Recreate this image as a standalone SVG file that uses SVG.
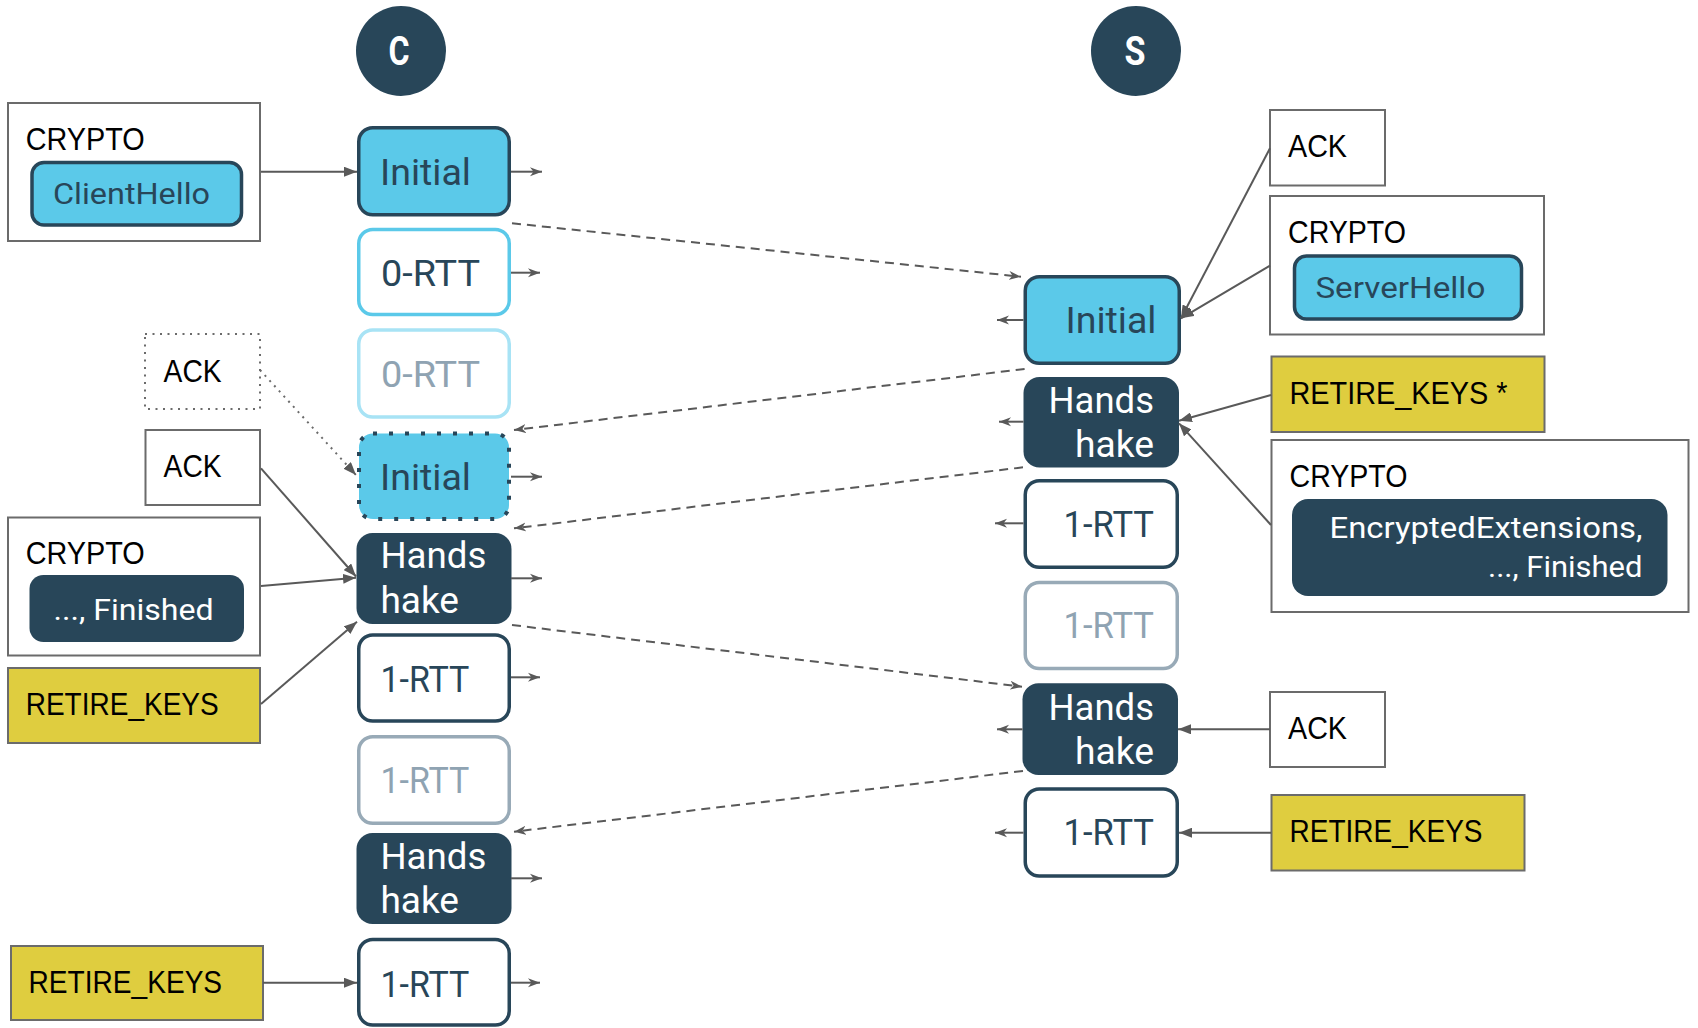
<svg xmlns="http://www.w3.org/2000/svg" width="1698" height="1028" viewBox="0 0 1698 1028">
  <defs>
    <marker id="tri" markerUnits="userSpaceOnUse" markerWidth="14" markerHeight="10" refX="13" refY="5" orient="auto">
      <path d="M0,0 L13,5 L0,10 z" fill="#595959"/>
    </marker>
    <marker id="chev" markerUnits="userSpaceOnUse" markerWidth="14" markerHeight="10" refX="12" refY="5" orient="auto">
      <path d="M0,0.5 L12,5 L0,9.5 L3.5,5 z" fill="#595959"/>
    </marker>
    <style>
      .bg { fill: #ffffff; }
      .frame { fill: #ffffff; stroke: #6b6b6b; stroke-width: 2; }
      .frame-dot { fill: #ffffff; stroke: #6b6b6b; stroke-width: 2; stroke-dasharray: 2 5.5; }
      .yellow { fill: #DFCD3F; stroke: #6b6b6b; stroke-width: 2; }
      .lbl { font-family: "Liberation Sans", Arial, sans-serif; font-size: 31px; fill: #000000; }
      .ntxt { font-family: Roboto, "Liberation Sans", sans-serif; font-size: 37px; }
      .itxt { font-family: Roboto, "Liberation Sans", sans-serif; font-size: 30px; }
      .dark { fill: #284659; }
      .n-init { fill: #5BC9E9; stroke: #284659; stroke-width: 3.5; }
      .n-init-dot { fill: #5BC9E9; stroke: #284659; stroke-width: 4; stroke-dasharray: 4 12; }
      .n-0rtt { fill: #ffffff; stroke: #5BC9E9; stroke-width: 3.5; }
      .n-0rtt-old { fill: #ffffff; stroke: #A8E3F5; stroke-width: 3.5; }
      .n-hs { fill: #284659; }
      .n-1rtt { fill: #ffffff; stroke: #284659; stroke-width: 3.5; }
      .n-1rtt-old { fill: #ffffff; stroke: #98AAB7; stroke-width: 3.5; }
      .t-dark { fill: #284659; }
      .t-white { fill: #ffffff; }
      .t-faded { fill: #8FA3B2; }
      .ep { font-family: Roboto, "Liberation Sans", sans-serif; font-size: 40px; font-weight: bold; fill: #ffffff; }
      .c-solid { fill: none; stroke: #595959; stroke-width: 2; marker-end: url(#tri); }
      .c-out { fill: none; stroke: #595959; stroke-width: 2; marker-end: url(#chev); }
      .c-dash { fill: none; stroke: #595959; stroke-width: 2; stroke-dasharray: 9 6; marker-end: url(#chev); }
      .c-dot { fill: none; stroke: #6b6b6b; stroke-width: 2; stroke-dasharray: 2 5; marker-end: url(#tri); }
    </style>
  </defs>

  <rect class="bg" x="0" y="0" width="1698" height="1028"/>

  <!-- endpoints -->
  <g id="client">
    <circle cx="401" cy="51" r="45" class="dark"/>
    <text class="ep" x="399" y="65" text-anchor="middle" textLength="21" lengthAdjust="spacingAndGlyphs">C</text>
  </g>
  <g id="server">
    <circle cx="1136" cy="51" r="45" class="dark"/>
    <text class="ep" x="1135" y="65" text-anchor="middle" textLength="21" lengthAdjust="spacingAndGlyphs">S</text>
  </g>

  <!-- client-side frames -->
  <g id="c-crypto-1">
    <rect class="frame" x="8" y="103" width="252" height="138"/>
    <text class="lbl" x="25.7" y="150" textLength="119" lengthAdjust="spacingAndGlyphs">CRYPTO</text>
    <rect class="n-init" x="32" y="162.5" width="209.5" height="62.5" rx="12"/>
    <text class="itxt t-dark" x="53" y="204" textLength="157" lengthAdjust="spacingAndGlyphs">ClientHello</text>
  </g>
  <g id="c-ack-dotted">
    <rect class="frame-dot" x="145" y="334" width="115" height="75"/>
    <text class="lbl" x="163.6" y="381.7" textLength="58" lengthAdjust="spacingAndGlyphs">ACK</text>
  </g>
  <g id="c-ack">
    <rect class="frame" x="145.5" y="430" width="114.5" height="75"/>
    <text class="lbl" x="163.6" y="476.7" textLength="58" lengthAdjust="spacingAndGlyphs">ACK</text>
  </g>
  <g id="c-crypto-2">
    <rect class="frame" x="8" y="517.5" width="252" height="138"/>
    <text class="lbl" x="25.7" y="564.3" textLength="119" lengthAdjust="spacingAndGlyphs">CRYPTO</text>
    <rect class="n-hs" x="29.5" y="575" width="214.5" height="67" rx="14"/>
    <text class="itxt t-white" x="53.6" y="620" textLength="160" lengthAdjust="spacingAndGlyphs">..., Finished</text>
  </g>
  <g id="c-retire-1">
    <rect class="yellow" x="8" y="668" width="252" height="75"/>
    <text class="lbl" x="25.7" y="715" textLength="193" lengthAdjust="spacingAndGlyphs">RETIRE_KEYS</text>
  </g>
  <g id="c-retire-2">
    <rect class="yellow" x="11" y="946" width="252" height="74"/>
    <text class="lbl" x="28.6" y="993.3" textLength="193.5" lengthAdjust="spacingAndGlyphs">RETIRE_KEYS</text>
  </g>

  <!-- client packets -->
  <g id="c-initial">
    <rect class="n-init" x="358.75" y="127.75" width="150.5" height="87" rx="14"/>
    <text class="ntxt t-dark" x="380" y="185" textLength="91" lengthAdjust="spacingAndGlyphs">Initial</text>
  </g>
  <g id="c-0rtt">
    <rect class="n-0rtt" x="358.75" y="229.5" width="150.5" height="85" rx="14"/>
    <text class="ntxt t-dark" x="381" y="286" textLength="99" lengthAdjust="spacingAndGlyphs">0-RTT</text>
  </g>
  <g id="c-0rtt-old">
    <rect class="n-0rtt-old" x="358.75" y="330" width="150.5" height="87" rx="14"/>
    <text class="ntxt t-faded" x="381" y="386.7" textLength="99" lengthAdjust="spacingAndGlyphs">0-RTT</text>
  </g>
  <g id="c-initial-retx">
    <rect class="n-init-dot" x="359" y="433.5" width="150" height="85.5" rx="14"/>
    <text class="ntxt t-dark" x="380" y="490" textLength="91" lengthAdjust="spacingAndGlyphs">Initial</text>
  </g>
  <g id="c-handshake-1">
    <rect class="n-hs" x="356.5" y="533" width="155" height="91" rx="16"/>
    <text class="ntxt t-white" x="380.4" y="568.3" textLength="106" lengthAdjust="spacingAndGlyphs">Hands</text>
    <text class="ntxt t-white" x="380.4" y="613.3" textLength="78.6" lengthAdjust="spacingAndGlyphs">hake</text>
  </g>
  <g id="c-1rtt-1">
    <rect class="n-1rtt" x="358.75" y="635" width="150.5" height="86" rx="14"/>
    <text class="ntxt t-dark" x="380.4" y="691.7" textLength="89" lengthAdjust="spacingAndGlyphs">1-RTT</text>
  </g>
  <g id="c-1rtt-old">
    <rect class="n-1rtt-old" x="358.75" y="736.75" width="150.5" height="86.5" rx="14"/>
    <text class="ntxt t-faded" x="380.4" y="793.3" textLength="89" lengthAdjust="spacingAndGlyphs">1-RTT</text>
  </g>
  <g id="c-handshake-2">
    <rect class="n-hs" x="356.5" y="833" width="155" height="91" rx="16"/>
    <text class="ntxt t-white" x="380.4" y="869.3" textLength="106" lengthAdjust="spacingAndGlyphs">Hands</text>
    <text class="ntxt t-white" x="380.4" y="913.3" textLength="78.6" lengthAdjust="spacingAndGlyphs">hake</text>
  </g>
  <g id="c-1rtt-2">
    <rect class="n-1rtt" x="358.75" y="939.5" width="150.5" height="85.5" rx="14"/>
    <text class="ntxt t-dark" x="380.4" y="996.7" textLength="89" lengthAdjust="spacingAndGlyphs">1-RTT</text>
  </g>

  <!-- server packets -->
  <g id="s-initial">
    <rect class="n-init" x="1025.25" y="276.75" width="154" height="86.5" rx="14"/>
    <text class="ntxt t-dark" x="1156.5" y="333.3" text-anchor="end" textLength="91" lengthAdjust="spacingAndGlyphs">Initial</text>
  </g>
  <g id="s-handshake-1">
    <rect class="n-hs" x="1023.5" y="377" width="155.5" height="90.5" rx="16"/>
    <text class="ntxt t-white" x="1154" y="413.3" text-anchor="end" textLength="105.5" lengthAdjust="spacingAndGlyphs">Hands</text>
    <text class="ntxt t-white" x="1154" y="456.7" text-anchor="end" textLength="79" lengthAdjust="spacingAndGlyphs">hake</text>
  </g>
  <g id="s-1rtt-1">
    <rect class="n-1rtt" x="1025.25" y="480.75" width="152" height="86.5" rx="14"/>
    <text class="ntxt t-dark" x="1154" y="536.7" text-anchor="end" textLength="90.5" lengthAdjust="spacingAndGlyphs">1-RTT</text>
  </g>
  <g id="s-1rtt-old">
    <rect class="n-1rtt-old" x="1025.25" y="582.5" width="152" height="86" rx="14"/>
    <text class="ntxt t-faded" x="1154" y="638.3" text-anchor="end" textLength="90.5" lengthAdjust="spacingAndGlyphs">1-RTT</text>
  </g>
  <g id="s-handshake-2">
    <rect class="n-hs" x="1022.5" y="683.3" width="155.5" height="91.7" rx="16"/>
    <text class="ntxt t-white" x="1154" y="720" text-anchor="end" textLength="105.5" lengthAdjust="spacingAndGlyphs">Hands</text>
    <text class="ntxt t-white" x="1154" y="764" text-anchor="end" textLength="79" lengthAdjust="spacingAndGlyphs">hake</text>
  </g>
  <g id="s-1rtt-2">
    <rect class="n-1rtt" x="1025.25" y="789" width="152" height="87" rx="14"/>
    <text class="ntxt t-dark" x="1154" y="845" text-anchor="end" textLength="90.5" lengthAdjust="spacingAndGlyphs">1-RTT</text>
  </g>

  <!-- server-side frames -->
  <g id="s-ack-1">
    <rect class="frame" x="1270" y="110" width="115" height="75.5"/>
    <text class="lbl" x="1288" y="157.3" textLength="59" lengthAdjust="spacingAndGlyphs">ACK</text>
  </g>
  <g id="s-crypto-1">
    <rect class="frame" x="1270" y="196" width="274" height="138.5"/>
    <text class="lbl" x="1288" y="243.3" textLength="118" lengthAdjust="spacingAndGlyphs">CRYPTO</text>
    <rect class="n-init" x="1294.5" y="256" width="227" height="63" rx="12"/>
    <text class="itxt t-dark" x="1315.4" y="298.3" textLength="170" lengthAdjust="spacingAndGlyphs">ServerHello</text>
  </g>
  <g id="s-retire-star">
    <rect class="yellow" x="1271.5" y="356.5" width="273" height="75.5"/>
    <text class="lbl" x="1289.5" y="404" textLength="218" lengthAdjust="spacingAndGlyphs">RETIRE_KEYS *</text>
  </g>
  <g id="s-crypto-2">
    <rect class="frame" x="1271.5" y="440" width="417" height="172"/>
    <text class="lbl" x="1289.5" y="486.7" textLength="118" lengthAdjust="spacingAndGlyphs">CRYPTO</text>
    <rect class="n-hs" x="1292" y="499" width="375.5" height="97" rx="16"/>
    <text class="itxt t-white" x="1642.5" y="538.3" text-anchor="end" textLength="313" lengthAdjust="spacingAndGlyphs">EncryptedExtensions,</text>
    <text class="itxt t-white" x="1642.5" y="576.7" text-anchor="end" textLength="154.5" lengthAdjust="spacingAndGlyphs">..., Finished</text>
  </g>
  <g id="s-ack-2">
    <rect class="frame" x="1270" y="692" width="115" height="75"/>
    <text class="lbl" x="1288" y="739.3" textLength="59" lengthAdjust="spacingAndGlyphs">ACK</text>
  </g>
  <g id="s-retire">
    <rect class="yellow" x="1271.5" y="795" width="253" height="75.5"/>
    <text class="lbl" x="1289.5" y="841.7" textLength="193" lengthAdjust="spacingAndGlyphs">RETIRE_KEYS</text>
  </g>

  <!-- connectors -->
  <g id="connectors">
    <!-- frames into client packets -->
    <line class="c-solid" x1="261" y1="171.7" x2="357" y2="171.7"/>
    <line class="c-dot" x1="260" y1="370" x2="356" y2="475"/>
    <line class="c-solid" x1="261" y1="468.3" x2="356" y2="576.5"/>
    <line class="c-solid" x1="261" y1="586" x2="356" y2="577.7"/>
    <line class="c-solid" x1="261" y1="704" x2="357" y2="621.7"/>
    <line class="c-solid" x1="263" y1="982.7" x2="357" y2="982.7"/>

    <!-- frames into server packets -->
    <line class="c-solid" x1="1270" y1="148.3" x2="1181" y2="318.3"/>
    <line class="c-solid" x1="1270" y1="265.7" x2="1181" y2="318.3"/>
    <line class="c-solid" x1="1271" y1="395" x2="1179" y2="420.7"/>
    <line class="c-solid" x1="1271" y1="525" x2="1179" y2="423.3"/>
    <line class="c-solid" x1="1270" y1="729.3" x2="1178" y2="729.3"/>
    <line class="c-solid" x1="1271" y1="832.7" x2="1179" y2="832.7"/>

    <!-- packets leaving the client -->
    <line class="c-out" x1="511" y1="171.7" x2="542" y2="171.7"/>
    <line class="c-out" x1="511" y1="272.7" x2="540" y2="272.7"/>
    <line class="c-out" x1="511" y1="476.7" x2="542" y2="476.7"/>
    <line class="c-out" x1="511" y1="578.3" x2="542" y2="578.3"/>
    <line class="c-out" x1="511" y1="677.3" x2="540" y2="677.3"/>
    <line class="c-out" x1="511" y1="878.3" x2="542" y2="878.3"/>
    <line class="c-out" x1="511" y1="982.7" x2="540" y2="982.7"/>

    <!-- packets leaving the server -->
    <line class="c-out" x1="1023.5" y1="320" x2="997" y2="320"/>
    <line class="c-out" x1="1023.5" y1="421.7" x2="999" y2="421.7"/>
    <line class="c-out" x1="1023.5" y1="523.3" x2="995" y2="523.3"/>
    <line class="c-out" x1="1022.5" y1="729.3" x2="997" y2="729.3"/>
    <line class="c-out" x1="1023.5" y1="832.7" x2="995" y2="832.7"/>

    <!-- flights in transit -->
    <line class="c-dash" x1="512" y1="223.3" x2="1021" y2="276.7"/>
    <line class="c-dash" x1="1024.6" y1="369" x2="514" y2="430"/>
    <line class="c-dash" x1="1023" y1="467.3" x2="514" y2="528.3"/>
    <line class="c-dash" x1="512" y1="625" x2="1022" y2="686.7"/>
    <line class="c-dash" x1="1023" y1="771" x2="514" y2="831.7"/>
  </g>
</svg>
